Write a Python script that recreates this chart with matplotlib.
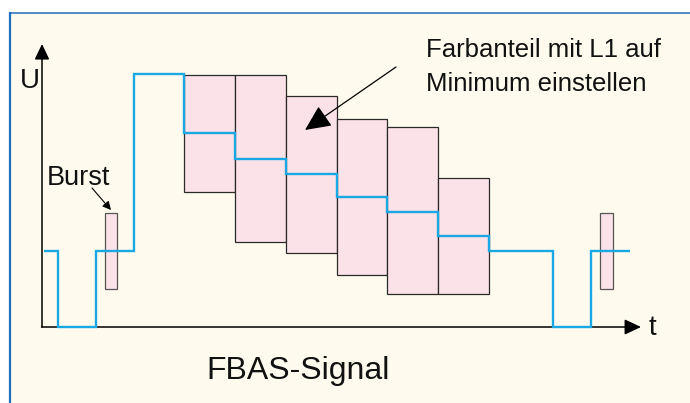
import matplotlib
matplotlib.use("Agg")
import matplotlib.pyplot as plt
from matplotlib.patches import Rectangle

plt.rcParams['font.family'] = ['Liberation Sans', 'DejaVu Sans']

# ---- diagram data (pixel-like units, y grows downward) ----
signal_edges = [44, 58, 96, 134, 184, 235, 286, 337, 387, 438, 489, 553, 591, 630]
signal_levels = [251, 327, 251, 74, 133, 159, 174, 197, 212, 236, 251, 327, 251]

box_left = [184, 235, 286, 337, 387, 438]
box_right = [235, 286, 337, 387, 438, 489]
box_top = [75, 75, 96, 119, 127, 178]
box_bottom = [192, 242, 253, 275, 294, 294]

burst_left = [105, 600]
burst_right = [117, 613]
burst_top = [213, 213]
burst_bottom = [289, 289]

axis_origin = (42, 327)
y_axis_top = 44
x_axis_end = 641

labels = {
    "U": (20, 88),
    "t": (649, 335),
    "Burst": (47, 185),
    "FBAS-Signal": (206, 379),
    "Farbanteil mit L1 auf": (426, 57),
    "Minimum einstellen": (426, 91),
}

BG = "#FEFBEE"
BORDER = "#1F6EBE"
SIG = "#1AA8E4"
PINK = "#FBE1E8"

fig = plt.figure(figsize=(6.9, 4.03), dpi=100)
ax = fig.add_axes([0, 0, 1, 1])
ax.set_xlim(0, 690)
ax.set_ylim(403, 0)
ax.axis("off")

# background panel and frame
ax.add_patch(Rectangle((10, 12.5), 690, 403, facecolor=BG, edgecolor="none", zorder=0))
ax.plot([10, 10], [12, 403], color=BORDER, lw=1.6, zorder=1, solid_capstyle="butt")
ax.plot([10, 690], [12.5, 12.5], color=BORDER, lw=1.1, zorder=1, solid_capstyle="butt")

# colour boxes
widths = [r - l for l, r in zip(box_left, box_right)]
heights = [b - t for t, b in zip(box_top, box_bottom)]
ax.bar(box_left, heights, width=widths, bottom=box_top, align="edge",
       facecolor=PINK, edgecolor="#2a2a2a", linewidth=0.9, zorder=2)

bw = [r - l for l, r in zip(burst_left, burst_right)]
bh = [b - t for t, b in zip(burst_top, burst_bottom)]
ax.bar(burst_left, bh, width=bw, bottom=burst_top, align="edge",
       facecolor=PINK, edgecolor="#555555", linewidth=0.9, zorder=2)

# axes lines with arrows
ox, oy = axis_origin
ax.annotate("", xy=(ox, y_axis_top), xytext=(ox, oy),
            arrowprops=dict(arrowstyle="-|>,head_length=9.4,head_width=4.5",
                            mutation_scale=1, color="black", lw=1.1,
                            shrinkA=0, shrinkB=0), zorder=3)
ax.annotate("", xy=(x_axis_end, oy), xytext=(ox - 0.5, oy),
            arrowprops=dict(arrowstyle="-|>,head_length=10,head_width=4.7",
                            mutation_scale=1, color="black", lw=1.1,
                            shrinkA=0, shrinkB=0), zorder=3)

# signal
ax.stairs(signal_levels, signal_edges, baseline=None, color=SIG, lw=1.7, zorder=4)

# arrows for annotations
ax.annotate("", xy=(111, 210), xytext=(92, 188),
            arrowprops=dict(arrowstyle="-|>,head_length=5,head_width=2.5",
                            mutation_scale=1, color="black", lw=0.8,
                            shrinkA=0, shrinkB=0), zorder=5)
ax.annotate("", xy=(305, 130), xytext=(396, 67),
            arrowprops=dict(arrowstyle="-|>,head_length=16,head_width=7.5",
                            mutation_scale=1, color="black", lw=0.9,
                            shrinkA=0, shrinkB=0), zorder=5)

# text
sizes = {"U": 20, "t": 20, "Burst": 19.5, "FBAS-Signal": 23,
         "Farbanteil mit L1 auf": 18.5, "Minimum einstellen": 18.5}
for txt, (x, y) in labels.items():
    ax.text(x, y, txt, fontsize=sizes[txt], color="#111111",
            ha="left", va="baseline", zorder=6)

fig.savefig("out.png", dpi=100, facecolor="white")
